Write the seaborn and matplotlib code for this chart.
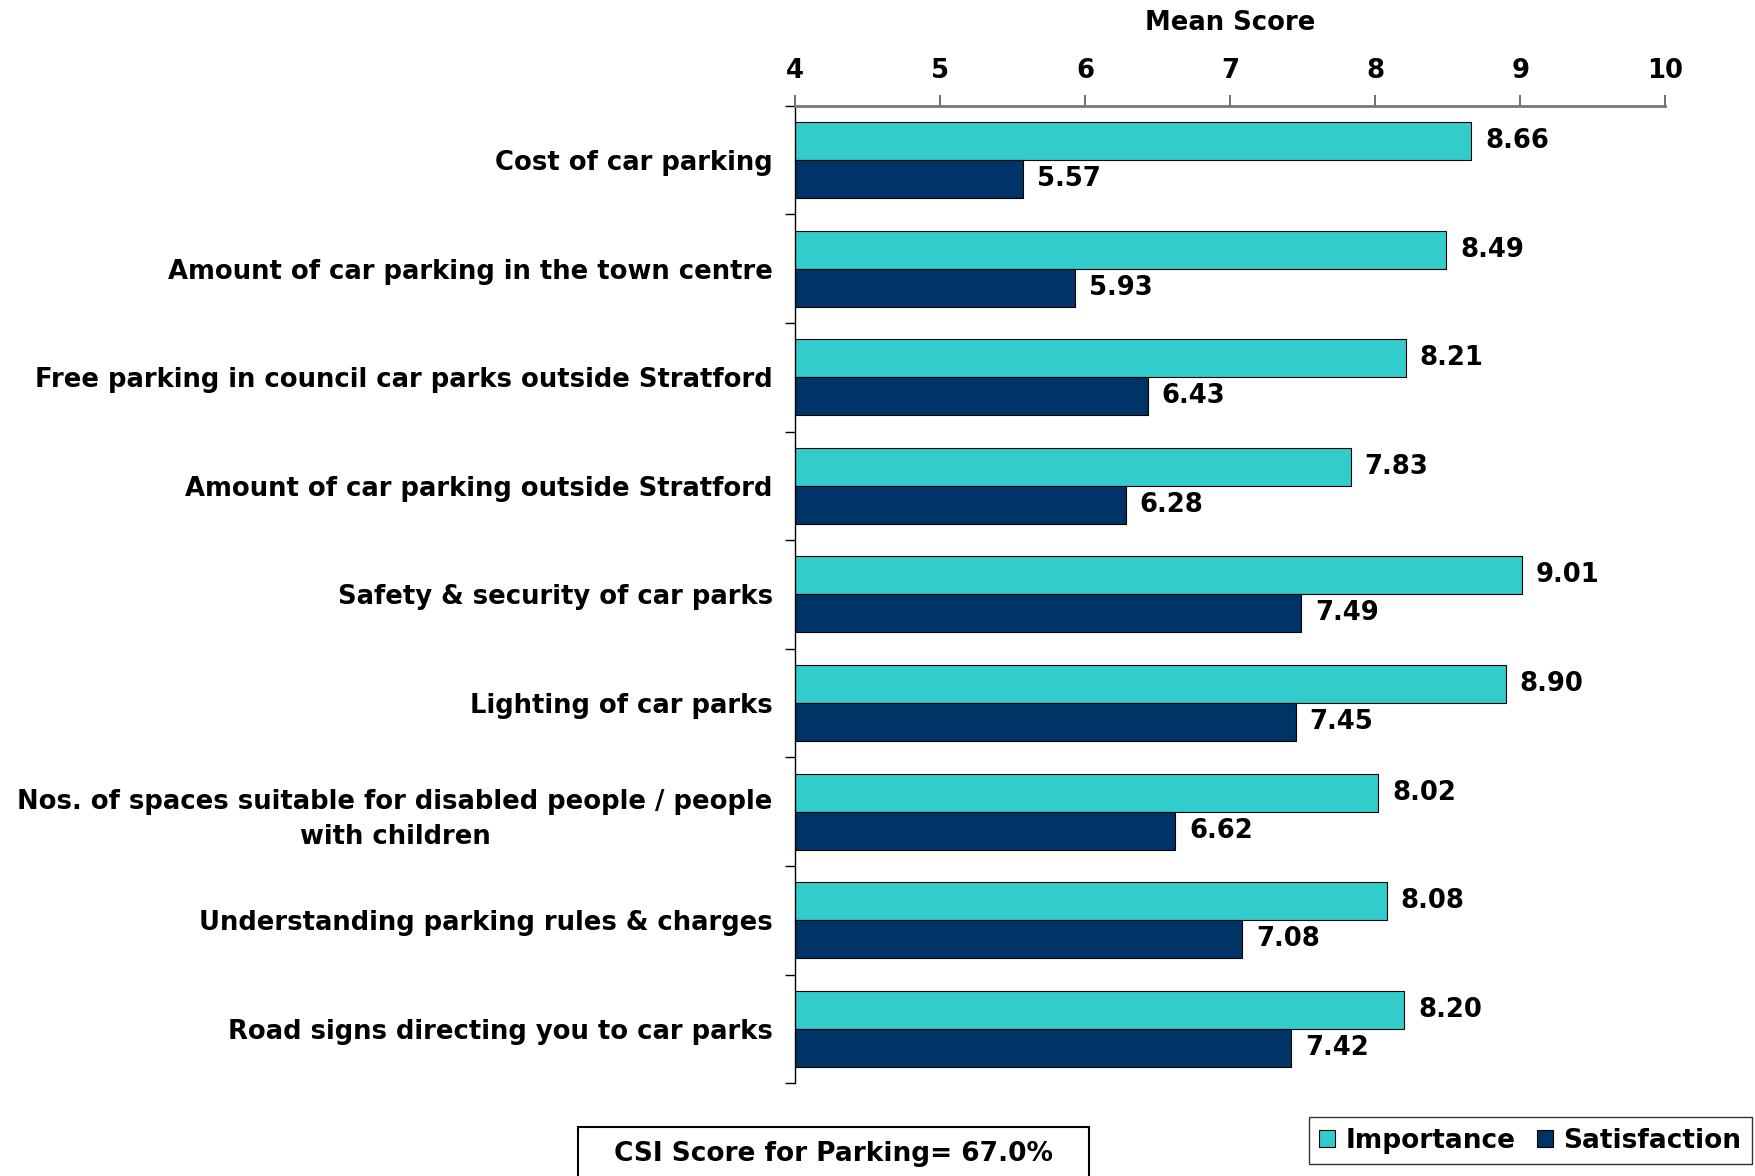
import matplotlib
matplotlib.use("Agg")
import matplotlib.pyplot as plt
import seaborn as sns
import pandas as pd
from matplotlib.patches import Rectangle
from matplotlib.ticker import FixedLocator

categories = [
    "Cost of car parking",
    "Amount of car parking in the town centre",
    "Free parking in council car parks outside Stratford",
    "Amount of car parking outside Stratford",
    "Safety & security of car parks",
    "Lighting of car parks",
    "Nos. of spaces suitable for disabled people / people\nwith children",
    "Understanding parking rules & charges",
    "Road signs directing you to car parks",
]
importance = [8.66, 8.49, 8.21, 7.83, 9.01, 8.90, 8.02, 8.08, 8.20]
satisfaction = [5.57, 5.93, 6.43, 6.28, 7.49, 7.45, 6.62, 7.08, 7.42]
series_names = ["Importance", "Satisfaction"]
colors = ["#33CCCC", "#003366"]
x_ticks = [4, 5, 6, 7, 8, 9, 10]

df = pd.DataFrame({
    "Category": categories * 2,
    "Score": importance + satisfaction,
    "Series": [series_names[0]] * len(categories) + [series_names[1]] * len(categories),
})

sns.set_theme(style="white")
plt.rcParams["font.family"] = ["DejaVu Sans"]
plt.rcParams["font.weight"] = "bold"
plt.rcParams["text.color"] = "black"
plt.rcParams["xtick.color"] = "black"
plt.rcParams["ytick.color"] = "black"
plt.rcParams["axes.labelcolor"] = "black"

FS = 18.6

fig = plt.figure(figsize=(17.55, 11.76), dpi=100)
ax = fig.add_axes([0.453, 0.079, 0.496, 0.831])

sns.barplot(data=df, y="Category", x="Score", hue="Series", orient="h",
            palette=colors, saturation=1, width=0.7, edgecolor="black", linewidth=0.8,
            ax=ax, legend=False, errorbar=None)

ax.set_xlim(4, 10)
ax.set_ylim(len(categories) - 0.5, -0.5)
ax.xaxis.set_ticks_position("top")
ax.xaxis.set_label_position("top")
ax.set_xticks(x_ticks)
ax.set_xticklabels([str(t) for t in x_ticks], fontsize=FS, fontweight="bold")
ax.set_xlabel("Mean Score", fontsize=FS, fontweight="bold", labelpad=20)
ax.set_ylabel("")
ax.tick_params(axis="x", which="major", direction="out", length=8, width=1.2,
               color="#555555", pad=8, top=True, bottom=False)

ax.tick_params(axis="y", which="major", length=0, pad=16)
ax.yaxis.set_minor_locator(FixedLocator([i + 0.5 for i in range(-1, len(categories))]))
ax.tick_params(axis="y", which="minor", left=True, direction="out", length=7,
               width=1, color="black")
for t in ax.get_yticklabels():
    t.set_fontsize(FS)
    t.set_fontweight("bold")
    t.set_multialignment("center")
    t.set_linespacing(1.45)

for s in ["right", "bottom"]:
    ax.spines[s].set_visible(False)
ax.spines["top"].set_color("#777777")
ax.spines["top"].set_linewidth(2)
ax.spines["left"].set_color("black")
ax.spines["left"].set_linewidth(1)

for cont in ax.containers:
    ax.bar_label(cont, fmt="%.2f", padding=10, fontsize=FS, fontweight="bold",
                 color="black")

# Legend
handles = [Rectangle((0, 0), 1, 1, facecolor=c, edgecolor="black", linewidth=0.8)
           for c in colors]
leg = fig.legend(handles, series_names, loc="center", ncol=2,
                 bbox_to_anchor=(0.872, 0.030), frameon=True, fancybox=False,
                 edgecolor="black", fontsize=FS + 0.4, handlelength=0.6, handleheight=0.6,
                 handletextpad=0.4, columnspacing=0.8, borderpad=0.4)
leg.get_frame().set_linewidth(1)
for t in leg.get_texts():
    t.set_fontweight("bold")
    t.set_color("black")

# CSI box
fig.patches.append(Rectangle((578 / 1755, -0.05), 511 / 1755, 1 - 1127 / 1176 + 0.05,
                             transform=fig.transFigure, facecolor="white",
                             edgecolor="black", linewidth=1.5))
fig.text(834 / 1755, 1 - 1154 / 1176, "CSI Score for Parking= 67.0%",
         ha="center", va="center", fontsize=FS + 0.4, fontweight="bold", color="black")

fig.savefig("out.png", dpi=100)
